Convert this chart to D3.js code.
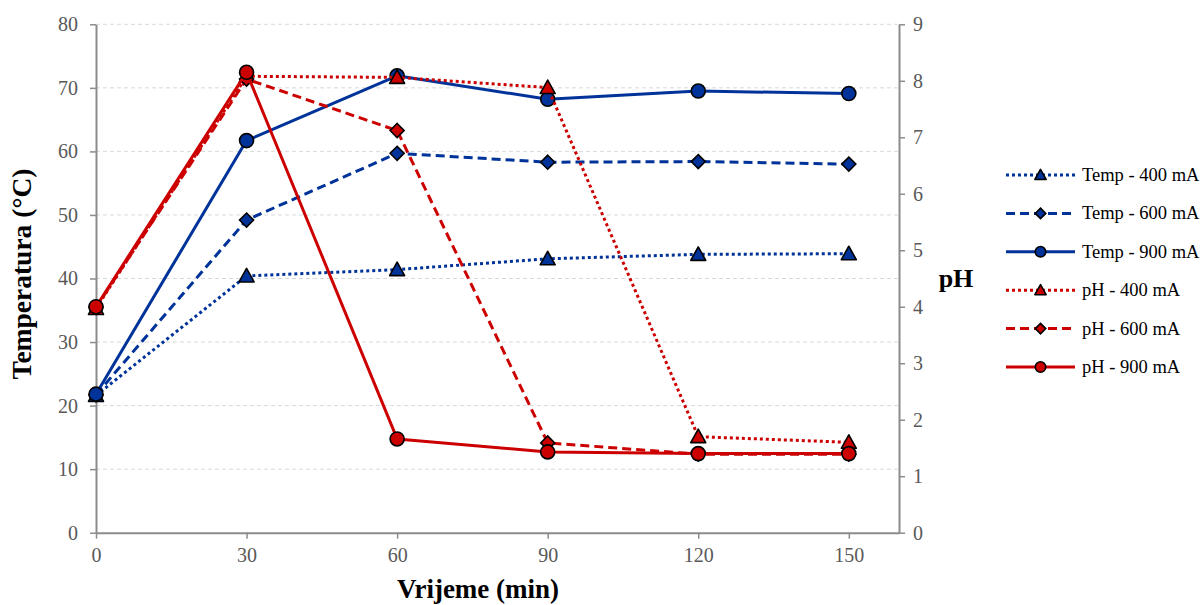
<!DOCTYPE html>
<html><head><meta charset="utf-8">
<script src="https://cdn.jsdelivr.net/npm/d3@7"></script>
<style>
html,body{margin:0;padding:0;background:#fff;}
text{font-family:"Liberation Serif","Times New Roman",serif;}
</style></head>
<body><svg id="c" width="1203" height="605"></svg>
<script>
const times = [0, 30, 60, 90, 120, 150];
const tempTicks = [0,10,20,30,40,50,60,70,80];
const phTicks = [0,1,2,3,4,5,6,7,8,9];
const temp400 = [21.6, 40.4, 41.4, 43.1, 43.8, 43.9];
const temp600 = [21.7, 49.2, 59.7, 58.3, 58.4, 58.0];
const temp900 = [21.8, 61.7, 71.9, 68.2, 69.5, 69.1];
const ph400 = [3.97, 8.08, 8.06, 7.88, 1.70, 1.60];
const ph600 = [3.99, 8.03, 7.12, 1.59, 1.39, 1.39];
const ph900 = [4.00, 8.15, 1.66, 1.43, 1.40, 1.40];
const seriesNames = ["Temp - 400 mA","Temp - 600 mA","Temp - 900 mA","pH - 400 mA","pH - 600 mA","pH - 900 mA"];

const blue = "#003399", red = "#cc0000";
const series = [
  {name: seriesNames[0], values: temp400, axis: "t", color: blue, dash: "3 3", marker: "tri"},
  {name: seriesNames[1], values: temp600, axis: "t", color: blue, dash: "9 5", marker: "dia"},
  {name: seriesNames[2], values: temp900, axis: "t", color: blue, dash: null, marker: "cir"},
  {name: seriesNames[3], values: ph400, axis: "p", color: red, dash: "3 3", marker: "tri"},
  {name: seriesNames[4], values: ph600, axis: "p", color: red, dash: "9 5", marker: "dia"},
  {name: seriesNames[5], values: ph900, axis: "p", color: red, dash: null, marker: "cir"}
];

const FONT = "'Liberation Serif','Times New Roman',serif";
const svg = d3.select("#c");
const L = 96, R = 899, T = 24.3, B = 532.7;
const x = d3.scaleLinear().domain([0,160]).range([L,R]);
const yT = d3.scaleLinear().domain([0,80]).range([B,T]);
const yP = d3.scaleLinear().domain([0,9]).range([B,T]);

// gridlines
svg.append("g").selectAll("line").data(tempTicks.slice(1)).join("line")
  .attr("x1",L).attr("x2",R).attr("y1",d=>yT(d)).attr("y2",d=>yT(d))
  .attr("stroke","#d9d9d9").attr("stroke-width",1).attr("stroke-dasharray","4 3");

const axisColor = "#8c8c8c", labColor = "#595959";
function styleAxis(g){
  g.attr("font-family",FONT);
  g.selectAll(".domain").attr("stroke",axisColor).attr("stroke-width",2);
  g.selectAll(".tick line").attr("stroke",axisColor).attr("stroke-width",1.5);
  g.selectAll(".tick text").attr("fill",labColor).style("font-size","20px")
   .style("font-family",FONT);
}
const gx = svg.append("g").attr("transform",`translate(0,${B})`)
  .call(d3.axisBottom(x).tickValues(times).tickSize(6).tickSizeOuter(0).tickPadding(9).tickFormat(d3.format("d")));
styleAxis(gx);
const gl = svg.append("g").attr("transform",`translate(${L},0)`)
  .call(d3.axisLeft(yT).tickValues(tempTicks).tickSize(6).tickSizeOuter(0).tickPadding(12).tickFormat(d3.format("d")));
styleAxis(gl);
const gr = svg.append("g").attr("transform",`translate(${R},0)`)
  .call(d3.axisRight(yP).tickValues(phTicks).tickSize(6).tickSizeOuter(0).tickPadding(8).tickFormat(d3.format("d")));
styleAxis(gr);

// axis titles
svg.append("text").attr("x",478).attr("y",598).attr("text-anchor","middle").style("font-family",FONT)
  .style("font-size","27px").style("font-weight","bold").text("Vrijeme (min)");
svg.append("text").attr("transform",`translate(31,274) rotate(-90)`).attr("text-anchor","middle").style("font-family",FONT)
  .style("font-size","27.5px").style("font-weight","bold").text("Temperatura (°C)");
svg.append("text").attr("x",956).attr("y",287).attr("text-anchor","middle").style("font-family",FONT)
  .style("font-size","26px").style("font-weight","bold").text("pH");

function drawMarker(g, type, cx, cy, color, s){
  s = s || 1;
  if(type==="cir"){
    g.append("circle").attr("cx",cx).attr("cy",cy).attr("r",7*s)
      .attr("fill",color).attr("stroke","#000").attr("stroke-width",1.6);
  } else if(type==="tri"){
    const h=7.5*s;
    g.append("path").attr("d",`M${cx},${cy-h} L${cx+h},${cy+h*0.8} L${cx-h},${cy+h*0.8} Z`)
      .attr("fill",color).attr("stroke","#000").attr("stroke-width",1.6).attr("stroke-linejoin","round");
  } else {
    const h=7*s;
    g.append("path").attr("d",`M${cx},${cy-h} L${cx+h},${cy} L${cx},${cy+h} L${cx-h},${cy} Z`)
      .attr("fill",color).attr("stroke","#000").attr("stroke-width",1.6);
  }
}

const plot = svg.append("g");
series.forEach(s=>{
  const yS = s.axis==="t" ? yT : yP;
  const line = d3.line().x((d,i)=>x(times[i])).y(d=>yS(d));
  const g = plot.append("g");
  g.append("path").datum(s.values).attr("d",line).attr("fill","none")
    .attr("stroke",s.color).attr("stroke-width",3)
    .attr("stroke-dasharray",s.dash)
    .attr("stroke-linejoin","round");
  s.values.forEach((v,i)=>drawMarker(g, s.marker, x(times[i]), yS(v), s.color));
});

// legend
const lg = svg.append("g");
series.forEach((s,i)=>{
  const yy = 175 + i*38.4;
  lg.append("line").attr("x1",1006).attr("x2",1075).attr("y1",yy).attr("y2",yy)
    .attr("stroke",s.color).attr("stroke-width",3).attr("stroke-dasharray",s.dash);
  drawMarker(lg, s.marker, 1040.5, yy, s.color, 0.75);
  lg.append("text").attr("x",1082).attr("y",yy+6).style("font-family",FONT)
    .style("font-size","18.5px").attr("fill","#000").text(s.name);
});
</script></body></html>
